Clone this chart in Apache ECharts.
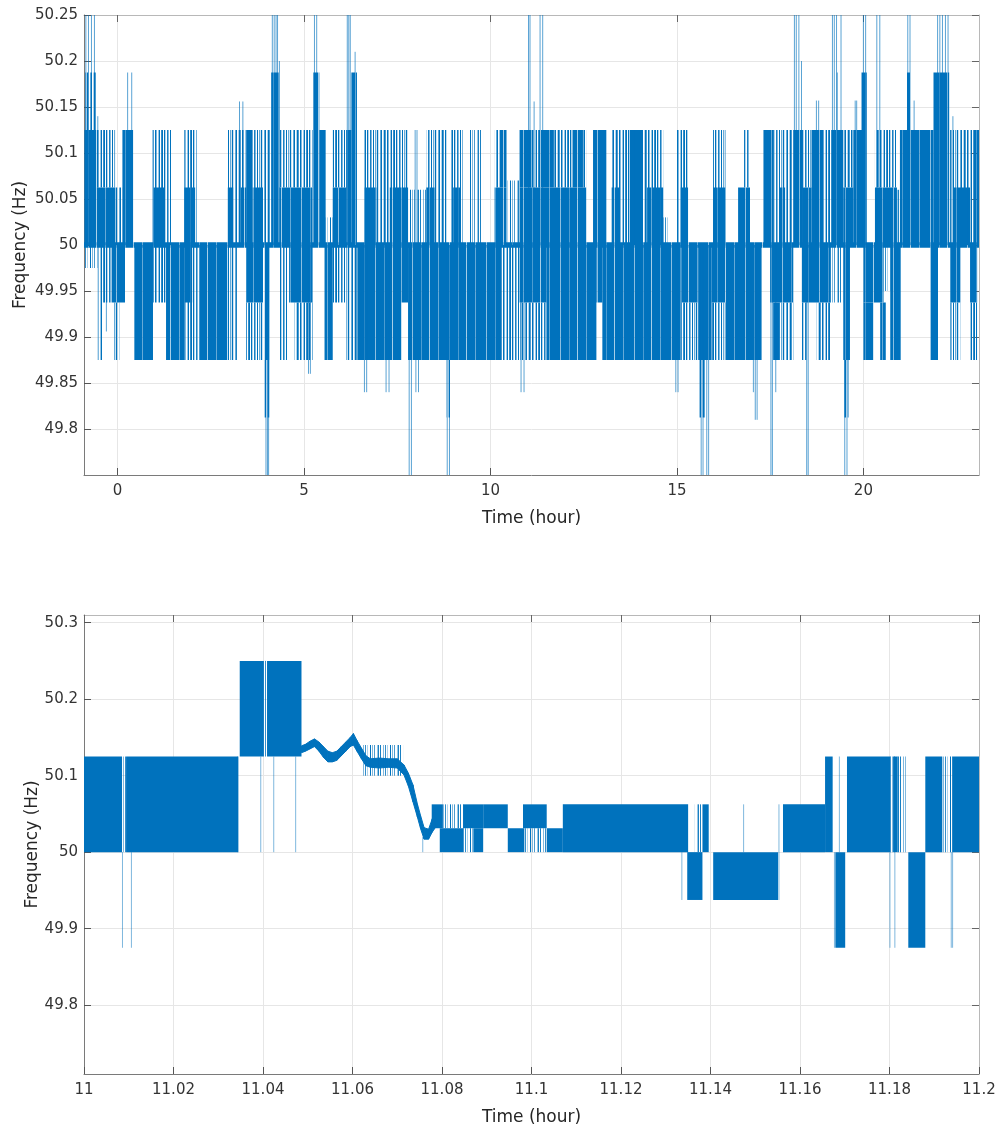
<!DOCTYPE html>
<html>
<head>
<meta charset="utf-8">
<script src="https://cdn.jsdelivr.net/npm/echarts@6/dist/echarts.min.js"></script>
<style>
html,body{margin:0;padding:0;background:#fff;}
#chart{width:1000px;height:1130px;}
</style>
</head>
<body>
<div id="chart"></div>
<script>
// ---------- tick labels ----------
const topXTicks = [0, 5, 10, 15, 20];
const topYTicks = [49.8, 49.85, 49.9, 49.95, 50, 50.05, 50.1, 50.15, 50.2, 50.25];
const botXTicks = [11, 11.02, 11.04, 11.06, 11.08, 11.1, 11.12, 11.14, 11.16, 11.18, 11.2];
const botYTicks = [49.8, 49.9, 50, 50.1, 50.2, 50.3];

// ---------- top panel (24 h): [start hour, end hour, low Hz, high Hz] ----------
// densely toggling intervals (appear solid)
const topDense = [
  [-0.9, 23.1, 49.997, 50.003],
  [-0.89, -0.56, 50, 50.125], [-0.56, -0.06, 50, 50.0625], [0.13, 0.42, 50, 50.125],
  [0.96, 1.25, 50, 50.0625], [1.79, 2.08, 50, 50.0625], [2.95, 3.1, 50, 50.0625],
  [3.3, 3.45, 50, 50.0625], [3.45, 3.62, 50, 50.125], [3.62, 3.9, 50, 50.0625],
  [4.12, 4.32, 50, 50.1875], [4.34, 5.23, 50, 50.0625], [5.25, 5.41, 50, 50.1875],
  [5.41, 5.58, 50, 50.125], [5.77, 6.13, 50, 50.0625], [6.13, 6.27, 50, 50.125],
  [6.27, 6.42, 50, 50.1875], [6.62, 6.94, 50, 50.0625], [7.3, 7.79, 50, 50.0625],
  [8.28, 8.5, 50, 50.0625], [9.0, 9.2, 50, 50.0625], [10.11, 10.43, 50, 50.0625],
  [10.25, 10.43, 50.0625, 50.125], [10.78, 12.57, 50, 50.0625], [10.78, 11.1, 50.0625, 50.125],
  [11.35, 11.7, 50.0625, 50.125], [12.2, 12.48, 50.0625, 50.125], [12.75, 13.11, 50, 50.125],
  [13.25, 13.47, 50, 50.0625], [13.74, 14.09, 50, 50.125], [14.2, 14.63, 50, 50.0625],
  [15.1, 15.3, 50, 50.0625], [15.97, 16.3, 50, 50.0625], [16.64, 16.96, 50, 50.0625],
  [17.32, 17.58, 50, 50.125], [17.76, 17.9, 50, 50.0625], [18.12, 18.38, 50, 50.125],
  [18.38, 18.61, 50, 50.0625], [18.61, 18.93, 50, 50.125], [19.15, 19.46, 50, 50.125],
  [19.46, 19.73, 50, 50.0625], [19.73, 20.09, 50, 50.125], [19.95, 20.09, 50.125, 50.1875],
  [20.31, 20.9, 50, 50.0625], [20.98, 21.88, 50, 50.125], [21.17, 21.25, 50.125, 50.1875],
  [21.88, 22.3, 50, 50.1875], [22.42, 22.86, 50, 50.0625], [22.95, 23.1, 50, 50.125],
  [-0.16, 0.2, 49.9375, 50], [0.45, 0.95, 49.875, 50], [1.3, 1.8, 49.875, 50],
  [1.8, 2.0, 49.9375, 50], [2.2, 2.95, 49.875, 50], [3.45, 3.9, 49.9375, 50],
  [3.94, 4.07, 49.875, 50], [4.6, 5.23, 49.9375, 50], [5.55, 5.77, 49.875, 50],
  [6.43, 7.61, 49.875, 50], [7.61, 7.79, 49.9375, 50], [7.79, 10.3, 49.875, 50],
  [10.78, 11.5, 49.9375, 50], [11.5, 12.84, 49.875, 50], [12.84, 13.0, 49.9375, 50],
  [13.0, 15.12, 49.875, 50], [15.12, 15.57, 49.9375, 50], [15.57, 15.93, 49.875, 50],
  [15.93, 16.3, 49.9375, 50], [16.3, 17.27, 49.875, 50], [17.5, 18.12, 49.9375, 50],
  [17.58, 17.76, 49.875, 49.9375], [18.35, 19.11, 49.9375, 50], [19.46, 19.64, 49.875, 50],
  [20.0, 20.54, 49.9375, 50], [20.0, 20.27, 49.875, 49.9375], [20.45, 20.6, 49.875, 49.9375],
  [20.72, 21.0, 49.875, 50], [21.79, 22.0, 49.875, 50], [22.33, 22.6, 49.9375, 50],
  [22.86, 23.05, 49.9375, 50]
];
// intermittently toggling intervals (many separate thin strokes)
const topSparse = [
  [-0.89, -0.56, 50.125, 50.1875], [-0.56, -0.06, 50.0625, 50.125], [-0.06, 0.13, 50, 50.0625],
  [0.94, 1.46, 50, 50.125], [1.79, 2.12, 50, 50.125], [2.95, 3.45, 50, 50.125], [3.62, 4.12, 50, 50.125],
  [4.34, 5.23, 50.0625, 50.125], [5.77, 6.13, 50.0625, 50.125], [6.62, 7.79, 50, 50.125],
  [8.28, 8.82, 50, 50.125], [8.95, 9.26, 50, 50.125],
  [10.11, 10.25, 50.0625, 50.125], [11.1, 11.35, 50.0625, 50.125], [11.7, 12.2, 50.0625, 50.125],
  [12.48, 12.57, 50.0625, 50.125], [13.25, 14.63, 50, 50.125], [14.99, 15.3, 50, 50.125],
  [15.97, 16.3, 50, 50.125], [16.8, 16.96, 50.0625, 50.125], [17.58, 18.12, 50, 50.125],
  [18.38, 18.61, 50.0625, 50.125], [18.93, 19.15, 50, 50.125], [19.46, 19.73, 50.0625, 50.125],
  [20.31, 20.9, 50.0625, 50.125], [22.3, 22.95, 50, 50.125],
  [-0.53, -0.4, 49.875, 50], [-0.4, -0.16, 49.9375, 50], [-0.1, 0.05, 49.875, 49.9375],
  [0.95, 1.3, 49.9375, 50], [1.8, 2.2, 49.875, 50], [2.95, 3.2, 49.875, 50],
  [3.45, 3.9, 49.875, 49.9375], [3.94, 4.07, 49.8125, 49.875], [4.34, 4.55, 49.875, 50],
  [4.75, 5.23, 49.875, 49.9375], [5.77, 6.13, 49.9375, 50], [6.13, 6.43, 49.875, 50],
  [8.82, 8.92, 49.8125, 49.875], [10.3, 10.78, 49.875, 50], [10.78, 11.5, 49.875, 49.9375],
  [15.12, 15.57, 49.875, 49.9375], [15.6, 15.75, 49.8125, 49.875], [15.93, 16.3, 49.875, 49.9375],
  [17.76, 18.12, 49.875, 49.9375], [18.35, 18.48, 49.875, 49.9375], [18.75, 19.11, 49.875, 49.9375],
  [19.48, 19.6, 49.8125, 49.875], [22.33, 22.6, 49.875, 49.9375],
  [22.86, 23.05, 49.875, 49.9375]
];
// rarely toggling intervals (few thin strokes)
const topLight = [
  [-0.89, -0.53, 49.975, 50], [5.58, 5.77, 50, 50.03], [7.79, 8.28, 50, 50.06],
  [9.44, 9.8, 50, 50.125], [10.43, 10.78, 50, 50.07], [14.63, 14.81, 50, 50.03],
  [19.11, 19.46, 49.9375, 50], [20.54, 20.72, 49.95, 50], [20.9, 20.98, 50, 50.06]
];
// isolated excursions: [hour, low Hz, high Hz]
const topSpikes = [
  [-0.85, 50, 50.25], [-0.78, 50, 50.25], [-0.7, 50, 50.25], [-0.62, 50, 50.25], [-0.53, 50, 50.14],
  [0.27, 50, 50.1875], [0.38, 50, 50.1875], [3.27, 50, 50.156], [3.36, 50, 50.156],
  [4.15, 50, 50.25], [4.2, 50, 50.25], [4.25, 50, 50.25], [4.29, 50, 50.25], [4.34, 50, 50.2],
  [5.28, 50, 50.25], [5.34, 50, 50.25], [6.16, 50, 50.25], [6.2, 50, 50.25], [6.24, 50, 50.25],
  [6.37, 50, 50.21], [7.98, 50, 50.125], [8.03, 50, 50.125], [11.02, 50, 50.25], [11.06, 50, 50.25],
  [11.17, 50, 50.156], [11.33, 50, 50.25], [11.4, 50, 50.25], [18.15, 50, 50.25], [18.2, 50, 50.25],
  [18.27, 50, 50.25], [18.34, 50, 50.2], [18.74, 50, 50.157], [18.8, 50, 50.157], [19.17, 50, 50.25],
  [19.22, 50, 50.25], [19.28, 50, 50.25], [19.3, 50, 50.1875], [19.4, 50, 50.25], [19.78, 50, 50.157],
  [19.82, 50, 50.157], [20.0, 50, 50.25], [20.06, 50, 50.25], [20.36, 50, 50.25], [20.44, 50, 50.25],
  [21.19, 50, 50.25], [21.25, 50, 50.25], [21.36, 50, 50.157], [21.99, 50, 50.25], [22.05, 50, 50.25],
  [22.12, 50, 50.25], [22.2, 50, 50.25], [22.27, 50, 50.25], [22.4, 50, 50.14],
  [-0.3, 49.906, 50], [3.98, 49.75, 50], [4.02, 49.75, 50], [4.05, 49.75, 50], [5.12, 49.86, 50],
  [5.17, 49.86, 50], [6.62, 49.84, 50], [6.68, 49.84, 50], [7.2, 49.84, 50], [7.28, 49.84, 50],
  [7.82, 49.75, 50], [7.88, 49.75, 50], [8.0, 49.84, 50], [8.07, 49.84, 50], [8.84, 49.75, 50],
  [8.9, 49.75, 50], [10.82, 49.84, 50], [10.9, 49.84, 50], [14.97, 49.84, 50], [15.03, 49.84, 50],
  [15.65, 49.75, 50], [15.7, 49.75, 50], [15.8, 49.75, 50], [15.85, 49.75, 50], [17.05, 49.84, 50],
  [17.1, 49.81, 50], [17.15, 49.81, 50], [17.52, 49.75, 50], [17.56, 49.75, 50], [17.65, 49.84, 50],
  [18.48, 49.75, 50], [18.52, 49.75, 50], [19.5, 49.75, 50], [19.56, 49.75, 50]
];

// ---------- bottom panel (11.0 - 11.2 h) ----------
const botDense = [
  [11.0, 11.0085, 50, 50.125], [11.0094, 11.0345, 50, 50.125],
  [11.0348, 11.0402, 50.125, 50.25], [11.0409, 11.0486, 50.125, 50.25],
  [11.0777, 11.0802, 50.03125, 50.0625], [11.0795, 11.0848, 50, 50.03125],
  [11.0847, 11.0892, 50.03125, 50.0625], [11.087, 11.0892, 50, 50.03125],
  [11.0892, 11.0947, 50.03125, 50.0625], [11.0947, 11.0984, 50, 50.03125],
  [11.0981, 11.1034, 50.03125, 50.0625], [11.1034, 11.107, 50, 50.03125],
  [11.107, 11.135, 50, 50.0625], [11.1348, 11.1382, 49.9375, 50],
  [11.1382, 11.1396, 50, 50.0625], [11.1406, 11.1551, 49.9375, 50],
  [11.1562, 11.1656, 50, 50.0625], [11.1656, 11.1673, 50, 50.125],
  [11.1679, 11.1701, 49.875, 50], [11.1705, 11.1802, 50, 50.125],
  [11.1808, 11.1818, 50, 50.125], [11.1842, 11.188, 49.875, 50],
  [11.188, 11.1918, 50, 50.125], [11.194, 11.2, 50, 50.125]
];
const botSparse = [
  [11.0085, 11.0094, 50, 50.125], [11.0402, 11.0409, 50.125, 50.25],
  [11.0802, 11.0848, 50.03125, 50.0625], [11.0847, 11.087, 50, 50.03125],
  [11.0985, 11.1034, 50, 50.03125], [11.1365, 11.1382, 50, 50.0625],
  [11.1802, 11.1836, 50, 50.125], [11.1918, 11.194, 50, 50.125],
  [11.0623, 11.0713, 50.1, 50.14]
];
const botSpikes = [
  [11.0086, 49.875, 50], [11.0106, 49.875, 50], [11.0343, 50, 50.125], [11.0395, 50, 50.125],
  [11.0424, 50, 50.125], [11.0473, 50, 50.125], [11.0757, 50.0, 50.02], [11.1336, 49.9375, 50],
  [11.1474, 50, 50.0625], [11.1553, 49.9375, 50.0625], [11.1677, 49.875, 50], [11.1688, 50, 50.125],
  [11.1801, 49.875, 50], [11.1812, 49.875, 50], [11.1938, 49.875, 50], [11.1941, 49.875, 50]
];
// continuous (finely resolved) part of the record
const waveTime = [11.0486, 11.0495, 11.0505, 11.0515, 11.0525, 11.0535, 11.0545, 11.0555, 11.0565,
  11.0575, 11.0585, 11.0595, 11.0602, 11.061, 11.062, 11.063, 11.064, 11.066, 11.068, 11.070,
  11.0715, 11.0725, 11.0735, 11.0745, 11.0752, 11.076, 11.077, 11.0778, 11.0785];
const waveLow = [50.130, 50.132, 50.135, 50.138, 50.132, 50.124, 50.118, 50.118, 50.120,
  50.126, 50.132, 50.138, 50.140, 50.132, 50.122, 50.113, 50.111, 50.110, 50.111, 50.110,
  50.101, 50.086, 50.066, 50.046, 50.031, 50.017, 50.017, 50.026, 50.032];
const waveHigh = [50.139, 50.141, 50.145, 50.148, 50.144, 50.138, 50.132, 50.130, 50.132,
  50.138, 50.144, 50.150, 50.155, 50.146, 50.136, 50.126, 50.122, 50.123, 50.122, 50.122,
  50.114, 50.103, 50.088, 50.063, 50.048, 50.032, 50.030, 50.043, 50.058];

// ---------- drawing ----------
const BLUE = '#0072BD';
const FONT = 'DejaVu Sans';
const chart = echarts.init(document.getElementById('chart'), null, {renderer: 'canvas'});

// stroke textures imitating many overlapping thin 0.5px traces
function texture(alphas) {
  const c = document.createElement('canvas');
  c.width = alphas.length; c.height = 4;
  const ctx = c.getContext('2d');
  alphas.forEach(function (a, i) {
    ctx.fillStyle = 'rgba(0,114,189,' + a + ')';
    ctx.fillRect(i, 0, 1, 4);
  });
  return {image: c, repeat: 'repeat'};
}
const SPARSE_TEX = texture([1, 0.2, 0, 0.6, 1, 0, 0.3, 1, 0.7, 0, 1, 0.5, 0, 0.4, 1, 0, 0.8, 1, 0, 1, 0.3, 0, 0.9, 0.5, 0, 1, 0, 0.6, 0.2]);
const DENSE_TEX = texture([1, 1, 1, 1, 1, 0.45, 1, 1, 1, 1, 1, 1, 1, 1, 0.7, 1, 1, 1, 1, 1, 1, 1, 0.35, 1, 1, 1, 1, 1, 1, 1, 1, 0.6, 1, 1, 1, 1, 1]);
const LIGHT_TEX = texture([0.9, 0, 0, 0.5, 0, 0.8, 0, 0.3, 0, 0, 1, 0, 0.5, 0, 0.7, 0, 0, 0.4, 0.9, 0]);

function clip(shape, params) {
  const cs = params.coordSys;
  return echarts.graphic.clipRectByRect(shape, {x: cs.x, y: cs.y, width: cs.width, height: cs.height});
}
function rectSeries(data, ai, fill, z) {
  return {
    type: 'custom', xAxisIndex: ai * 2, yAxisIndex: ai * 2, data: data, z: z, silent: true,
    encode: {x: [0, 1], y: [2, 3]},
    renderItem: function (params, api) {
      const a = api.coord([api.value(0), api.value(3)]);
      const b = api.coord([api.value(1), api.value(2)]);
      const s = clip({x: a[0], y: a[1], width: Math.max(b[0] - a[0], 1), height: Math.max(b[1] - a[1], 1)}, params);
      return s ? {type: 'rect', shape: s, style: {fill: fill}} : null;
    }
  };
}
function spikeSeries(data, ai, stroke, z) {
  return {
    type: 'custom', xAxisIndex: ai * 2, yAxisIndex: ai * 2, data: data, z: z, silent: true,
    encode: {x: 0, y: [1, 2]},
    renderItem: function (params, api) {
      const a = api.coord([api.value(0), api.value(2)]);
      const b = api.coord([api.value(0), api.value(1)]);
      const cs = params.coordSys;
      const y1 = Math.max(a[1], cs.y), y2 = Math.min(b[1], cs.y + cs.height);
      return {type: 'line', shape: {x1: a[0], y1: y1, x2: a[0], y2: y2}, style: {stroke: stroke, lineWidth: 1}};
    }
  };
}
const waveData = waveTime.map(function (t, i) { return [t, waveLow[i], waveHigh[i]]; });
const waveSeries = {
  type: 'custom', xAxisIndex: 2, yAxisIndex: 2, data: waveData, z: 5, silent: true,
  encode: {x: 0, y: [1, 2]},
  renderItem: function (params, api) {
    const i = params.dataIndex;
    if (i >= waveData.length - 1) return null;
    const n = waveData[i + 1];
    const p1 = api.coord([api.value(0), api.value(1)]);
    const p2 = api.coord([n[0], n[1]]);
    const p3 = api.coord([n[0], n[2]]);
    const p4 = api.coord([api.value(0), api.value(2)]);
    return {type: 'polygon', shape: {points: [p1, p2, p3, p4]}, style: {fill: BLUE, stroke: BLUE, lineWidth: 1}};
  }
};

function xAxes(gi, min, max, ticks) {
  return [{
    gridIndex: gi, type: 'value', min: min, max: max, position: 'bottom',
    name: 'Time (hour)', nameLocation: 'middle', nameGap: 35,
    nameTextStyle: {fontFamily: FONT, fontSize: 17, color: '#262626'},
    axisLine: {show: true, onZero: false, lineStyle: {color: '#7a7a7a', width: 1}},
    axisTick: {show: true, inside: true, length: 7, customValues: ticks, lineStyle: {color: '#555'}},
    axisLabel: {customValues: ticks, margin: 9, fontFamily: FONT, fontSize: 15, color: '#333'},
    splitLine: {show: true, lineStyle: {color: '#e6e6e6', width: 1}}
  }, {
    gridIndex: gi, type: 'value', min: min, max: max, position: 'top',
    axisLine: {show: true, onZero: false, lineStyle: {color: '#b8b8b8', width: 1}},
    axisTick: {show: true, inside: true, length: 7, customValues: ticks, lineStyle: {color: '#666'}},
    axisLabel: {show: false}, splitLine: {show: false}
  }];
}
function yAxes(gi, min, max, ticks, gap) {
  return [{
    gridIndex: gi, type: 'value', min: min, max: max, position: 'left',
    name: 'Frequency (Hz)', nameLocation: 'middle', nameGap: gap, nameRotate: 90, nameMoveOverlap: false,
    nameTextStyle: {fontFamily: FONT, fontSize: 17, color: '#262626'},
    axisLine: {show: true, onZero: false, lineStyle: {color: '#7a7a7a', width: 1}},
    axisTick: {show: true, inside: true, length: 7, customValues: ticks, lineStyle: {color: '#555'}},
    axisLabel: {customValues: ticks, margin: 6, fontFamily: FONT, fontSize: 15, color: '#333'},
    splitLine: {show: true, lineStyle: {color: '#e6e6e6', width: 1}}
  }, {
    gridIndex: gi, type: 'value', min: min, max: max, position: 'right',
    axisLine: {show: true, onZero: false, lineStyle: {color: '#b8b8b8', width: 1}},
    axisTick: {show: true, inside: true, length: 7, customValues: ticks, lineStyle: {color: '#666'}},
    axisLabel: {show: false}, splitLine: {show: false}
  }];
}

const option = {
  backgroundColor: '#fff',
  animation: false,
  grid: [
    {left: 84, top: 15, width: 895, height: 460},
    {left: 84, top: 615, width: 895, height: 459}
  ],
  xAxis: [].concat(xAxes(0, -0.9, 23.1, topXTicks), xAxes(1, 11, 11.2, botXTicks)),
  yAxis: [].concat(yAxes(0, 49.75, 50.25, topYTicks, 55), yAxes(1, 49.71, 50.31, botYTicks, 43)),
  series: [
    rectSeries(topLight, 0, LIGHT_TEX, 1),
    rectSeries(topSparse, 0, SPARSE_TEX, 2),
    rectSeries(topDense, 0, DENSE_TEX, 3),
    spikeSeries(topSpikes, 0, 'rgba(0,114,189,0.65)', 4),
    rectSeries(botSparse, 1, LIGHT_TEX, 2),
    rectSeries(botDense, 1, BLUE, 3),
    spikeSeries(botSpikes, 1, 'rgba(0,114,189,0.5)', 4),
    waveSeries
  ]
};
chart.setOption(option);
</script>
</body>
</html>
